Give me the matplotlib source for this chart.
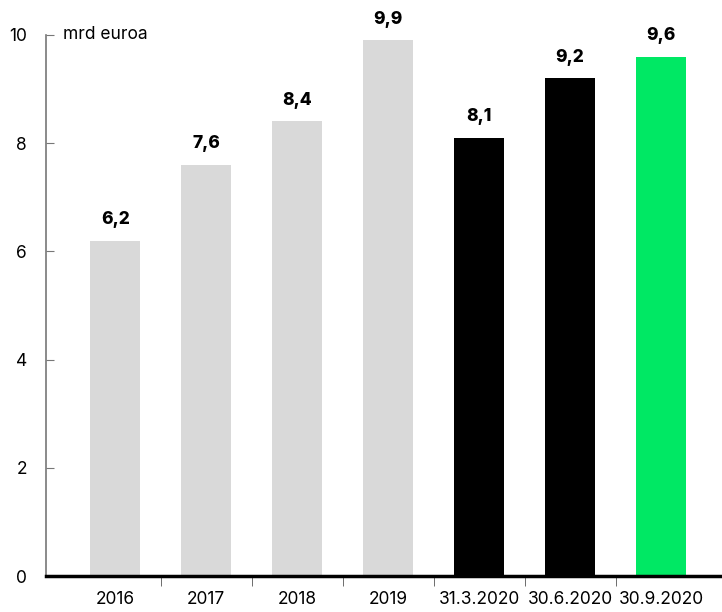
import matplotlib
matplotlib.use("Agg")
from matplotlib import pyplot as plt

categories = ["2016", "2017", "2018", "2019", "31.3.2020", "30.6.2020", "30.9.2020"]
values = [6.2, 7.6, 8.4, 9.9, 8.1, 9.2, 9.6]
value_labels = ["6,2", "7,6", "8,4", "9,9", "8,1", "9,2", "9,6"]
bar_colors = ["#d9d9d9", "#d9d9d9", "#d9d9d9", "#d9d9d9", "#000000", "#000000", "#00e864"]

plt.rcParams["font.family"] = ["Inter", "DejaVu Sans"]

fig = plt.figure(figsize=(7.22, 6.12), dpi=100)
ax = fig.add_axes([0.064, 0.0588, 0.936, 0.8842])

x = list(range(len(categories)))
ax.bar(x, values, width=0.55, color=bar_colors, zorder=2)

# value labels above bars
for xi, v, lab in zip(x, values, value_labels):
    ax.annotate(lab, (xi, v), xytext=(0, 9), textcoords="offset points",
                ha="center", va="bottom", fontsize=12.5, fontweight="heavy",
                annotation_clip=False)

ax.set_xlim(-0.76, 6.67)
ax.set_ylim(0, 10)

ax.set_yticks([0, 2, 4, 6, 8, 10])
ax.set_yticklabels(["0", "2", "4", "6", "8", "10"], fontsize=12.5)
ax.tick_params(axis="y", direction="in", length=6, color="#777777", pad=14)

ax.set_xticks(x)
ax.set_xticklabels(categories, fontsize=12.5)
ax.set_xticks([i + 0.5 for i in range(len(categories) - 1)], minor=True)
ax.tick_params(axis="x", which="major", length=0, pad=11)
ax.tick_params(axis="x", which="minor", length=7, color="#555555")

for side in ["top", "right"]:
    ax.spines[side].set_visible(False)
ax.spines["left"].set_color("#777777")
ax.spines["left"].set_linewidth(1.2)
ax.spines["bottom"].set_color("black")
ax.spines["bottom"].set_linewidth(2.5)
ax.spines["bottom"].set_zorder(3)

ax.text(-0.58, 10, "mrd euroa", ha="left", va="center", fontsize=12.5)

fig.savefig("out.png", dpi=100)
